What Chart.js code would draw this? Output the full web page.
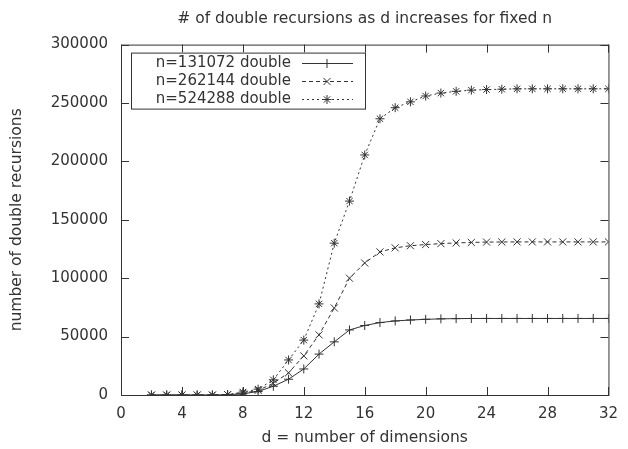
<!DOCTYPE html>
<html>
<head>
<meta charset="utf-8">
<script src="https://cdn.jsdelivr.net/npm/chart.js@4.4.1/dist/chart.umd.min.js"></script>
<style>
  html, body { margin: 0; padding: 0; background: #fff; }
  #wrap { width: 628px; height: 449px; }
</style>
</head>
<body>
<div id="wrap"><canvas id="myChart"></canvas></div>
<script>
// dimensions d = 2..32
const dims = [2,3,4,5,6,7,8,9,10,11,12,13,14,15,16,17,18,19,20,21,22,23,24,25,26,27,28,29,30,31,32];

const n131072 = [0,0,0,0,0,200,1000,3000,7500,13500,22300,35000,45500,55700,59500,62000,63400,64200,64800,65200,65400,65500,
    65536,65536,65536,65536,65536,65536,65536,65536,65536];
const n262144 = [0,0,0,0,0,300,1500,4000,10000,19000,33500,51500,74500,100000,113000,122500,126000,127800,128800,129600,130200,130600,
    130900,131000,131072,131072,131072,131072,131072,131072,131072];
const n524288 = [0,0,0,0,0,400,2500,5000,13000,30000,47000,78000,130000,166000,205500,236500,246000,251000,256000,258500,260000,261000,
    261500,261800,262144,262144,262144,262144,262144,262144,262144];

const xTicks = [0,4,8,12,16,20,24,28,32];
const yTicks = [0,50000,100000,150000,200000,250000,300000];

const ink = '#333';
const font = 'DejaVu Sans, sans-serif';

function pts(ys) {
    return ys.map((y, i) => ({ x: dims[i], y: y }));
}

// box around the plot plus inward ticks on all four sides (gnuplot style)
const frame = {
    id: 'frame',
    afterDatasetsDraw(chart) {
        const { ctx, chartArea: a, scales } = chart;
        ctx.save();
        ctx.strokeStyle = ink;
        ctx.lineWidth = 1;
        ctx.strokeRect(a.left + 0.5, a.top + 0.5, a.right - a.left, a.bottom - a.top);
        ctx.beginPath();
        xTicks.forEach(v => {
            const px = Math.round(scales.x.getPixelForValue(v)) + 0.5;
            ctx.moveTo(px, a.bottom); ctx.lineTo(px, a.bottom - 8);
            ctx.moveTo(px, a.top); ctx.lineTo(px, a.top + 8);
        });
        yTicks.forEach(v => {
            const py = Math.round(scales.y.getPixelForValue(v)) + 0.5;
            ctx.moveTo(a.left, py); ctx.lineTo(a.left + 8, py);
            ctx.moveTo(a.right, py); ctx.lineTo(a.right - 8, py);
        });
        ctx.stroke();
        ctx.restore();
    }
};

// key box in the upper left: label, then a line sample with its marker
const key = {
    id: 'key',
    afterDraw(chart) {
        const { ctx, chartArea: a } = chart;
        const left = a.left + 10, top = a.top + 8, w = 234, rowH = 18;
        ctx.save();
        ctx.fillStyle = '#fff';
        ctx.fillRect(left, top, w, rowH * 3 + 2);
        ctx.strokeStyle = ink;
        ctx.lineWidth = 1;
        ctx.strokeRect(left + 0.5, top + 0.5, w, rowH * 3 + 2);
        ctx.font = '15px ' + font;
        ctx.textAlign = 'right';
        ctx.textBaseline = 'middle';
        chart.data.datasets.forEach((ds, i) => {
            const y = Math.round(top + 10 + i * rowH) + 0.5;
            ctx.fillStyle = ink;
            ctx.fillText(ds.label, left + 160, y);
            ctx.beginPath();
            ctx.setLineDash(ds.borderDash || []);
            ctx.moveTo(left + 171, y);
            ctx.lineTo(left + 222, y);
            ctx.stroke();
            ctx.setLineDash([]);
            Chart.helpers.drawPoint(ctx, {
                pointStyle: ds.pointStyle, radius: ds.pointRadius, borderWidth: 1
            }, left + 196, y);
        });
        ctx.restore();
    }
};

new Chart(document.getElementById('myChart'), {
    type: 'line',
    data: {
        datasets: [
            {
                label: 'n=131072 double',
                data: pts(n131072),
                borderColor: ink, backgroundColor: ink,
                borderWidth: 1, pointStyle: 'cross', pointRadius: 4.5,
                pointBorderWidth: 1, tension: 0
            },
            {
                label: 'n=262144 double',
                data: pts(n262144),
                borderColor: ink, backgroundColor: ink,
                borderWidth: 1, borderDash: [4, 3], pointStyle: 'crossRot', pointRadius: 5,
                pointBorderWidth: 1, tension: 0
            },
            {
                label: 'n=524288 double',
                data: pts(n524288),
                borderColor: ink, backgroundColor: ink,
                borderWidth: 1, borderDash: [2, 3], pointStyle: 'star', pointRadius: 4.5,
                pointBorderWidth: 1, tension: 0
            }
        ]
    },
    options: {
        responsive: true,
        maintainAspectRatio: false,
        animation: false,
        layout: { padding: { left: 0, right: 16, top: 0, bottom: 0 } },
        plugins: {
            legend: { display: false },
            tooltip: { enabled: false },
            title: {
                display: true,
                fullSize: false,
                text: '# of double recursions as d increases for fixed n',
                color: ink,
                font: { family: font, size: 15.5, weight: 'normal' },
                padding: { top: 10, bottom: 16 }
            }
        },
        scales: {
            x: {
                type: 'linear', min: 0, max: 32,
                afterFit: s => { s.height = 54; },
                afterBuildTicks: s => { s.ticks = xTicks.map(v => ({ value: v })); },
                grid: { display: false, drawTicks: false },
                border: { display: false },
                ticks: { color: ink, padding: 10, maxRotation: 0, font: { family: font, size: 15 } },
                title: {
                    display: true, text: 'd = number of dimensions', color: ink,
                    font: { family: font, size: 15.5 }, padding: { top: 0, bottom: 2 }
                }
            },
            y: {
                min: 0, max: 300000,
                afterFit: s => { s.width = 121; },
                afterBuildTicks: s => { s.ticks = yTicks.map(v => ({ value: v })); },
                grid: { display: false, drawTicks: false },
                border: { display: false },
                ticks: { color: ink, padding: 13, font: { family: font, size: 15 }, callback: v => String(v) },
                title: {
                    display: true, text: 'number of double recursions', color: ink,
                    font: { family: font, size: 15.5 }, padding: { top: 8, bottom: 0 }
                }
            }
        }
    },
    plugins: [frame, key]
});
</script>
</body>
</html>
